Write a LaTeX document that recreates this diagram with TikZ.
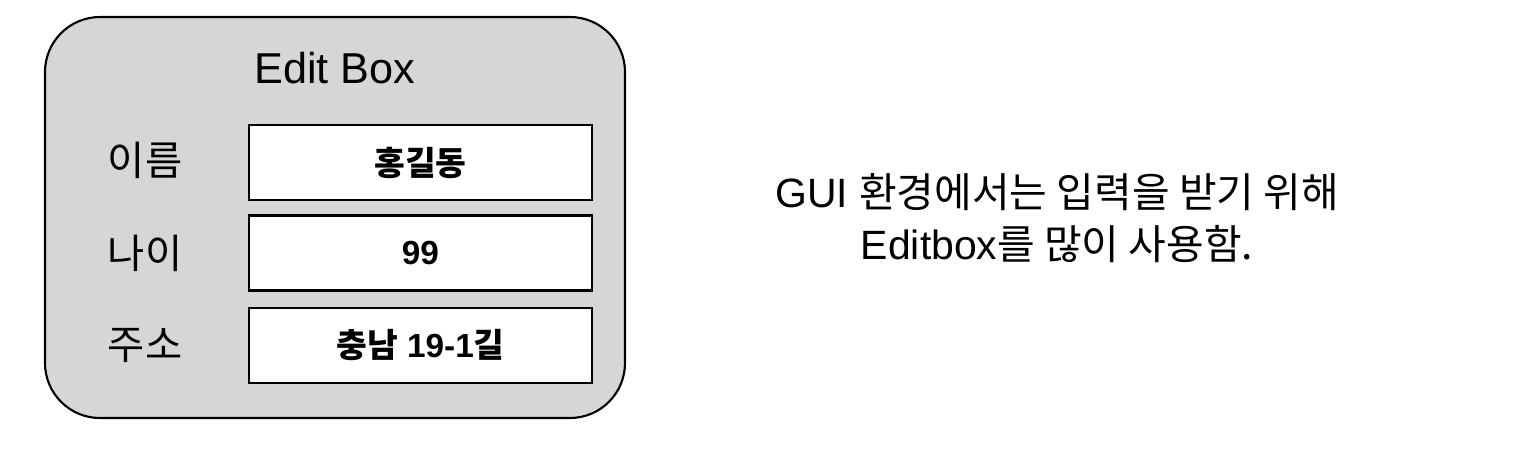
\documentclass[tikz,border=0pt]{standalone}
\usepackage{fontspec}
\setmainfont{Liberation Sans}
\newfontfamily\kr{Noto Sans CJK KR}
\newcommand{\ko}[1]{{\kr #1}}
\definecolor{boxgray}{HTML}{D6D6D6}

\begin{document}
\begin{tikzpicture}
            \tikzset{
                fieldname/.style={font=\fontsize{23}{28}\selectfont},
                entrybox/.style={draw=black, line width=1.6pt, fill=white, minimum width=6.86cm, minimum height=1.5cm, inner sep=0pt, font=\fontsize{19}{23}\selectfont\bfseries},
            }
            \useasboundingbox (0,0) rectangle (30.68,9.08);
            \draw[black, line width=1.2pt, fill=boxgray, rounded corners=1.1cm] (0.9,0.72) rectangle (12.5,8.74);
            \node[font=\fontsize{24.6}{29}\selectfont] (title) at (6.7,7.72) {Edit Box};

            \node[fieldname] (name) at (2.9,5.88) {\ko{이름}};
            \node[fieldname] (age) at (2.9,4.02) {\ko{나이}};
            \node[fieldname] (addr) at (2.9,2.18) {\ko{주소}};

            \node[entrybox] (namebox) at (8.41,5.83) {\ko{홍길동}};
            \node[entrybox] (agebox) at (8.41,4.02) {99};
            \node[entrybox] (addrbox) at (8.41,2.17) {\ko{충남} 19-1\ko{길}};

            \node[align=center, font=\fontsize{23.3}{29.5}\selectfont] (note) at (21.14,4.72)
                {GUI \ko{환경에서는 입력을 받기 위해}\\Editbox\ko{를 많이 사용함.}};
        \end{tikzpicture}
\end{document}
